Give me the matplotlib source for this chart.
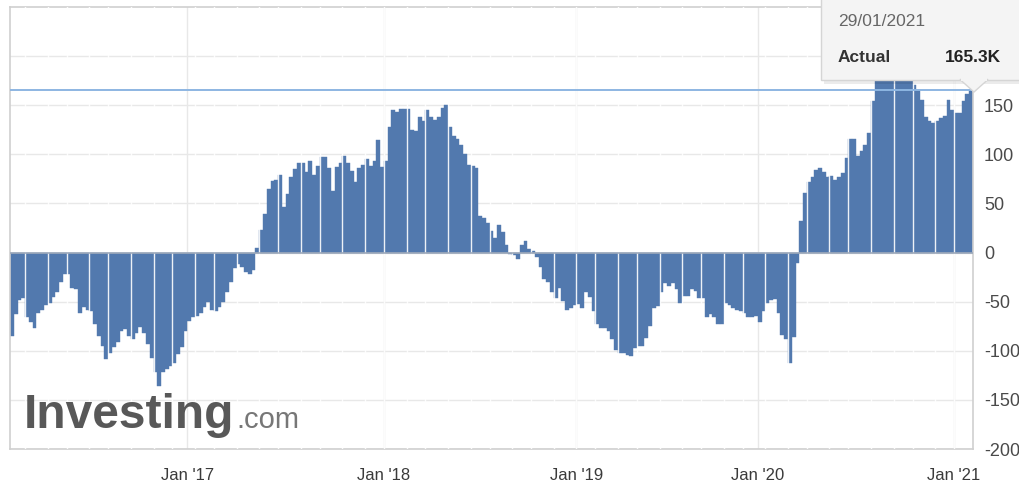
import numpy as np
import pandas as pd
import matplotlib
matplotlib.use('Agg')
import matplotlib.pyplot as plt
from matplotlib.patches import Rectangle, Polygon

plt.rcParams['font.family'] = ['Liberation Sans', 'DejaVu Sans']
plt.rcParams['axes.unicode_minus'] = False

# ---- data (weekly values, thousands of contracts) ----
vals_2016 = [-85, -63, -48, -46, -66, -71, -77, -62, -58, -53,
             -51, -45, -40, -30, -22, -22, -36, -37, -62, -55,
             -58, -60, -73, -85, -95, -108, -102, -96, -91, -80,
             -78, -85, -88, -82, -76, -82, -93, -107, -122, -136,
             -122, -119, -116, -112, -103, -96, -80]
vals_2017 = [-70, -66, -65, -62, -55, -50, -58, -60, -55, -50,
             -40, -30, -16, -12, -15, -20, -22, -18, 5,
             23, 39, 65, 73, 74, 79, 46, 60, 77, 85,
             91, 91, 82, 93, 79, 88, 97, 97, 86, 63,
             87, 91, 98, 91, 83, 72, 86, 89, 95, 88,
             93, 115, 87]
vals_2018 = [93, 128, 145, 143,
             146, 146, 146, 125, 124, 138, 134, 145, 138, 135,
             138, 147, 150, 128, 119, 116, 110, 100, 89, 88,
             86, 37, 35, 30, 22, 15, 28, 21, 8, -1,
             -2, -7, 8, 12, 4, 2, -5, -15, -27, -30,
             -40, -46, -36, -49, -58, -56, -53]
vals_2019 = [-52, -56, -40, -45,
             -60, -73, -77, -77, -80, -88, -99, -102, -102, -104,
             -105, -97, -95, -95, -87, -75, -56, -54, -40, -31,
             -34, -31, -37, -51, -44, -44, -37, -39, -46, -46,
             -66, -63, -66, -73, -73, -51, -53, -56, -58, -60,
             -62, -66, -66, -65]
vals_2020 = [-71, -60, -51, -48, -47, -62, -84, -88, -112, -86, -11,
             32, 61, 72, 77, 84, 86, 82, 77, 78, 74,
             77, 81, 96, 116, 116, 98, 103, 109, 122, 154,
             182, 190, 188, 185, 186, 190, 188, 184, 180, 176,
             171, 166, 155, 138, 134, 132, 134, 137, 139, 155,
             145]
vals_2021 = [142, 142, 154, 161, 165.3]

first_date = '2016-02-12'
last_date = '2021-01-29'
missing_dates = ['2018-12-28', '2019-01-04', '2019-01-11', '2019-01-18', '2019-01-25']
tick_years = [2017, 2018, 2019, 2020, 2021]
tick_labels = ["Jan '17", "Jan '18", "Jan '19", "Jan '20", "Jan '21"]
y_ticks = [-200, -150, -100, -50, 0, 50, 100, 150, 200]

tooltip_date = "29/01/2021"
tooltip_name = "Actual"
tooltip_value = "165.3K"
actual_value = 165.3

values = np.array(vals_2016 + vals_2017 + vals_2018 + vals_2019 + vals_2020 + vals_2021, dtype=float)
dates = pd.date_range(first_date, last_date, freq='W-FRI')
dates = dates[~dates.isin(pd.to_datetime(missing_dates))]
n = min(len(dates), len(values))
dates = dates[:n]
values = values[:n]

# ---- figure ----
W, H = 1020, 493
fig = plt.figure(figsize=(W / 100, H / 100), dpi=100)
fig.patch.set_facecolor('white')


def fx(px):
    return px / W


def fy(py):
    return 1 - py / H


ax = fig.add_axes([fx(10), fy(449), (973 - 10) / W, (449 - 7) / H])
x = np.arange(n)
bar_color = '#5279ae'
ax.bar(x, values, width=1.0, color=bar_color, edgecolor=bar_color, linewidth=0.3, zorder=2)

# thin white separators that appear between groups of bars
for b in np.arange(4, n, 5.6):
    ax.axvline(round(b) - 0.5, color='white', lw=1.0, alpha=0.9, zorder=3)

ax.axhline(0, color='#9eaabb', lw=1.2, zorder=4)
ax.axhline(actual_value, color='#8db6e2', lw=1.4, zorder=4)

ax.set_xlim(-0.5, n - 0.5)
ax.set_ylim(-200, 250)
ax.set_yticks(y_ticks)
# the top label (200) sits behind the tooltip in the reference
ax.set_yticklabels([str(v) if v < 200 else '' for v in y_ticks])
ax.yaxis.tick_right()

year_starts = [int(np.argmax(dates.year == y)) for y in tick_years]
ax.set_xticks(np.array(year_starts) - 0.5)
ax.set_xticklabels(tick_labels)

ax.tick_params(axis='y', length=0, pad=8, labelsize=13, labelcolor='#4a4a4a')
ax.tick_params(axis='x', length=0, pad=14, labelsize=12, labelcolor='#3a3a3a')
ax.grid(True, color='#e8e8e8', lw=1.0)
ax.set_axisbelow(True)
for s in ax.spines.values():
    s.set_color('#cfcfcf')
    s.set_linewidth(1.2)

# ---- watermark ----
fig.text(fx(24), fy(428), 'Investing', fontsize=34.5, fontweight='bold',
         color='#585858', va='baseline', ha='left', zorder=5)
fig.text(fx(236), fy(428), '.com', fontsize=21, color='#777777',
         va='baseline', ha='left', zorder=5)

# ---- tooltip ----
shadow = Rectangle((fx(824), fy(84)), (1030 - 824) / W, 100 / H, transform=fig.transFigure,
                   facecolor='black', alpha=0.08, edgecolor='none', zorder=6)
fig.add_artist(shadow)
box = Rectangle((fx(821), fy(80)), (1030 - 821) / W, 90 / H, transform=fig.transFigure,
                facecolor='#f4f4f4', edgecolor='#d5d5d5', lw=1, zorder=7)
fig.add_artist(box)
tri = Polygon([(fx(960), fy(79.5)), (fx(988), fy(79.5)), (fx(974), fy(92))], closed=True,
              transform=fig.transFigure, facecolor='#f4f4f4', edgecolor='#d5d5d5', lw=1, zorder=7)
fig.add_artist(tri)
cover = Rectangle((fx(961), fy(81)), 26 / W, 3 / H, transform=fig.transFigure,
                  facecolor='#f4f4f4', edgecolor='none', zorder=8)
fig.add_artist(cover)
fig.text(fx(838), fy(21), tooltip_date, fontsize=12.5, color='#666666',
         va='center', ha='left', zorder=9)
fig.text(fx(838), fy(57), tooltip_name, fontsize=12.5, fontweight='bold', color='#333333',
         va='center', ha='left', zorder=9)
fig.text(fx(1001), fy(57), tooltip_value, fontsize=12.5, fontweight='bold', color='#222222',
         va='center', ha='right', zorder=9)

fig.savefig('out.png', dpi=100, facecolor='white')
